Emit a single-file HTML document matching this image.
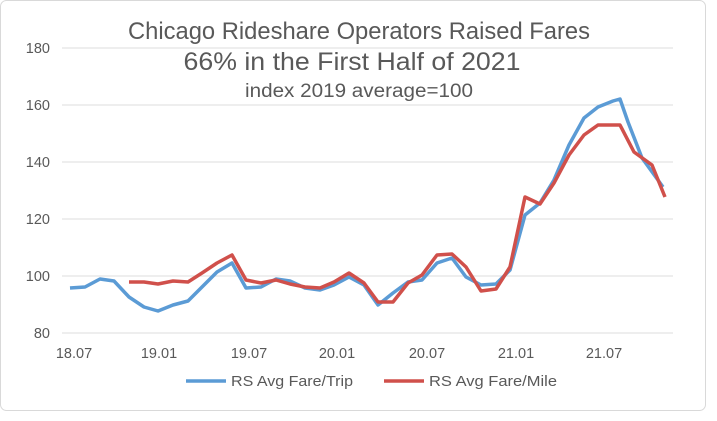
<!DOCTYPE html>
<html><head><meta charset="utf-8"><style>
body{margin:0;background:#fff;}
svg text{font-family:"Liberation Sans",sans-serif;}
</style></head><body>
<svg width="717" height="416" viewBox="0 0 717 416" xmlns="http://www.w3.org/2000/svg">
<rect x="0.5" y="0.5" width="705" height="410" rx="6" fill="#fff" stroke="#d9d9d9"/>
<g stroke="#e3e3e3" stroke-width="1.3">
<line x1="62" x2="673" y1="48" y2="48"/><line x1="62" x2="673" y1="105" y2="105"/>
<line x1="62" x2="673" y1="162" y2="162"/><line x1="62" x2="673" y1="219" y2="219"/>
<line x1="62" x2="673" y1="276" y2="276"/><line x1="62" x2="673" y1="333" y2="333"/>
</g>
<g font-size="14.5" fill="#595959" text-anchor="end">
<text x="50" y="53">180</text><text x="50" y="110">160</text><text x="50" y="167">140</text>
<text x="50" y="224">120</text><text x="50" y="281">100</text><text x="50" y="338">80</text>
</g>
<g font-size="14.5" fill="#595959" text-anchor="middle">
<text x="74" y="358">18.07</text><text x="159" y="358">19.01</text><text x="249" y="358">19.07</text>
<text x="337" y="358">20.01</text><text x="427" y="358">20.07</text><text x="516" y="358">21.01</text>
<text x="604" y="358">21.07</text>
</g>
<g fill="#595959" text-anchor="middle">
<text x="359" y="39" font-size="24" textLength="462" lengthAdjust="spacingAndGlyphs">Chicago Rideshare Operators Raised Fares</text>
<text x="352" y="70" font-size="25" textLength="337" lengthAdjust="spacingAndGlyphs">66% in the First Half of 2021</text>
<text x="359" y="97" font-size="19" textLength="228" lengthAdjust="spacingAndGlyphs">index 2019 average=100</text>
</g>
<polyline fill="none" stroke="#5b9bd5" stroke-width="3.5" stroke-linejoin="round" points="70,288 85,287 100,279 114,281 129,297 144,307 158,311 173,305 188,301 202,287 217,272 232,263 246,288 261,287 276,279 290,281 305,288 320,290 334,285 349,277 364,285 378,305 393,293 408,282 422,280 437,263 452,258 466,277 481,285 496,284 510,270 525,215 540,203 554,180 569,145 584,118 598,107 613,101 620,99 628,122 642,158 663,187"/>
<polyline fill="none" stroke="#d0504b" stroke-width="3.5" stroke-linejoin="round" points="129,282 144,282 158,284 173,281 188,282 202,273 217,263 232,255 246,280 261,283 276,280 290,284 305,287 320,288 334,282 349,273 364,283 378,302 393,302 408,283 422,275 437,255 452,254 466,267 481,291 496,289 510,267 525,197 540,204 554,183 569,155 584,135 598,125 613,125 620,125 634,152 652,165 665,197"/>
<line x1="186" x2="226" y1="381" y2="381" stroke="#5b9bd5" stroke-width="3.5"/>
<text x="231" y="386" font-size="14.5" fill="#595959" textLength="122" lengthAdjust="spacingAndGlyphs">RS Avg Fare/Trip</text>
<line x1="384" x2="424" y1="381" y2="381" stroke="#d0504b" stroke-width="3.5"/>
<text x="429" y="386" font-size="14.5" fill="#595959" textLength="128" lengthAdjust="spacingAndGlyphs">RS Avg Fare/Mile</text>
</svg>
</body></html>
